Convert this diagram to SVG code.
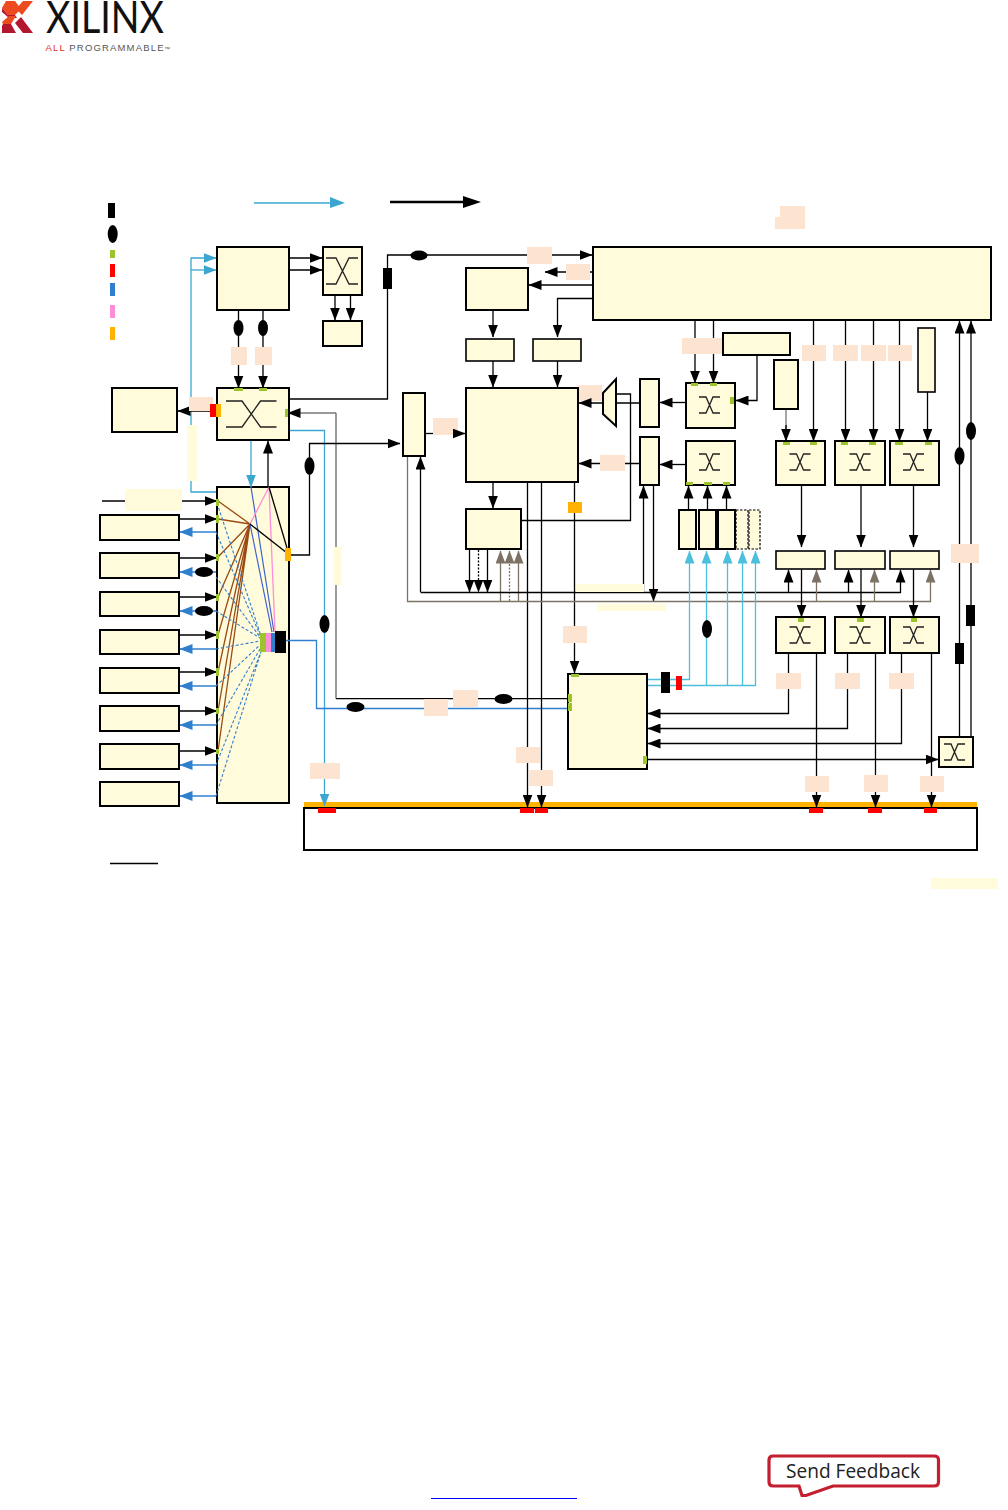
<svg xmlns="http://www.w3.org/2000/svg" width="1008" height="1510" viewBox="0 0 1008 1510">
<style>
.n{fill:#fffbdb;stroke:#000;stroke-width:2}
.t{fill:#fffbdb;stroke:#000;stroke-width:1.6}
.d{fill:#fffbdb;stroke:#000;stroke-width:1.2;stroke-dasharray:2.5 1.5}
.l{fill:none;stroke:#000;stroke-width:1.3}
.ld{fill:none;stroke:#000;stroke-width:1.3;stroke-dasharray:2 1.5}
.g{fill:none;stroke:#7d7364;stroke-width:1.3}
.gd{fill:none;stroke:#7d7364;stroke-width:1.3;stroke-dasharray:2 1.5}
.c{fill:none;stroke:#3ba7d1;stroke-width:1.3}
.lc{fill:none;stroke:#4cbfdc;stroke-width:1.3}
.b{fill:none;stroke:#2f7fce;stroke-width:1.3}
.bd{fill:none;stroke:#2f7fce;stroke-width:1.1;stroke-dasharray:3 2}
.br{fill:none;stroke:#9c4a12;stroke-width:1.3}
.p{fill:none;stroke:#ff8ed8;stroke-width:1.3}
.ub{fill:none;stroke:#3f62d0;stroke-width:1.2}
.x{fill:none;stroke:#222;stroke-width:1.3}
.pe{fill:#fde4d0}
.pa{fill:#fffbdb}
.gr{fill:#9bc42d}
.re{fill:#ff0000}
.or{fill:#ffb300}
.bl{fill:#000}
</style>
<defs>
<marker id="a" viewBox="0 0 13 10" refX="12.500" refY="5" markerWidth="13" markerHeight="10" markerUnits="userSpaceOnUse" orient="auto"><path d="M0 0L13 5L0 10Z" fill="#000"/></marker>
<marker id="ac" viewBox="0 0 13 10" refX="12.500" refY="5" markerWidth="13" markerHeight="10" markerUnits="userSpaceOnUse" orient="auto"><path d="M0 0L13 5L0 10Z" fill="#3ba7d1"/></marker>
<marker id="alc" viewBox="0 0 13 10" refX="12.500" refY="5" markerWidth="13" markerHeight="10" markerUnits="userSpaceOnUse" orient="auto"><path d="M0 0L13 5L0 10Z" fill="#4cbfdc"/></marker>
<marker id="ab" viewBox="0 0 13 10" refX="12.500" refY="5" markerWidth="13" markerHeight="10" markerUnits="userSpaceOnUse" orient="auto"><path d="M0 0L13 5L0 10Z" fill="#2f7fce"/></marker>
<marker id="ag" viewBox="0 0 13 10" refX="12.500" refY="5" markerWidth="13" markerHeight="10" markerUnits="userSpaceOnUse" orient="auto"><path d="M0 0L13 5L0 10Z" fill="#7d7364"/></marker>
<path id="xl" class="x" d="M-25.500 -13H-9.500L9 13H25M-25.500 13H-9.500L9 -13H25"/>
<path id="xm" class="x" d="M-16 -13H-6L7 13H16M-16 13H-6L7 -13H16"/>
<path id="xs" class="x" d="M-10.500 -8H-3.500L3.500 8H10.500M-10.500 8H-3.500L3.500 -8H10.500"/>
</defs>
<rect width="1008" height="1510" fill="#fff"/>

<g id="logo">
<polygon points="33,1 23,1 16,9 22,15" fill="#ee4a1f"/>
<polygon points="33,33 23,33 15,23 21,17" fill="#b5162f"/>
<polygon points="6,1 15,1 21,9 15,15 8,15 2,8" fill="#ee4a1f"/>
<polygon points="2,8 8,15 15,15 17,18 9,18 2,12" fill="#b5162f"/>
<polygon points="9,16 16,16 11,24 3,24 2,22" fill="#ee4a1f"/>
<polygon points="3,24 11,24 16,33 2,33 2,26" fill="#b5162f"/>
<text x="46" y="32.500" font-family="Lato, 'Liberation Sans', sans-serif" font-size="44" font-weight="400" textLength="118" lengthAdjust="spacingAndGlyphs" fill="#111">XILINX</text>
<text x="45.500" y="50.500" font-family="'Liberation Sans', sans-serif" font-size="9.500" textLength="118" lengthAdjust="spacing" fill="#555"><tspan fill="#e0301e">ALL</tspan> PROGRAMMABLE</text>
<text x="164" y="50.500" font-family="'Liberation Sans', sans-serif" font-size="6" fill="#555">™</text>
</g>

<g id="legend">
<rect x="108" y="203" width="7" height="15" class="bl"/>
<ellipse cx="112.700" cy="234" rx="5" ry="9" class="bl"/>
<rect x="110" y="250" width="5" height="8" class="gr"/>
<rect x="110" y="264" width="5" height="13" class="re"/>
<rect x="110" y="283" width="5" height="13" fill="#2f7fce"/>
<rect x="110" y="305" width="5" height="13" fill="#ff8ed8"/>
<rect x="110" y="327" width="5" height="13" class="or"/>
<path d="M254 203H334" fill="none" stroke="#3ba7d1" stroke-width="1.500"/>
<path d="M330 197L345 203L330 208Z" fill="#3ba7d1"/>
<path d="M390 202H465" fill="none" stroke="#000" stroke-width="2.500"/>
<path d="M463 196L481 202L463 208Z" fill="#000"/>
</g>

<g id="node-main"><rect class="n" x="217" y="487" width="72" height="316"/></g>
<g id="node-bus">
<rect class="n" x="304" y="808" width="673" height="42" style="fill:#fff"/>
<rect x="304" y="802" width="673" height="5" class="or"/>
<rect x="318" y="808" width="18" height="5" class="re"/>
<rect x="520" y="808" width="14" height="5" class="re"/>
<rect x="535" y="808" width="13" height="5" class="re"/>
<rect x="809" y="808" width="14" height="5" class="re"/>
<rect x="868" y="808" width="14" height="5" class="re"/>
<rect x="924" y="808" width="13" height="5" class="re"/>
</g>

<g id="connectors">
<path class="c" d="M216 492H191V258H216" marker-end="url(#ac)"/>
<path class="c" d="M191 270H216" marker-end="url(#ac)"/>
<path class="l" d="M289 258H322" marker-end="url(#a)"/>
<path class="l" d="M289 270H322" marker-end="url(#a)"/>
<path class="l" d="M335 295V320" marker-end="url(#a)"/>
<path class="l" d="M350.500 295V320" marker-end="url(#a)"/>
<path class="l" d="M238.500 310V388" marker-end="url(#a)"/>
<path class="l" d="M263 310V388" marker-end="url(#a)"/>
<path class="l" d="M217 411H178" marker-end="url(#a)"/>
<path class="l" d="M289 399H387.500V255H592" marker-end="url(#a)"/>
<path class="l" d="M336 413H288" marker-end="url(#a)" style="stroke:#777"/>
<path d="M336 413V698.700" fill="none" stroke="#666" stroke-width="1.300"/>
<path class="l" d="M336 698.700H568"/>
<path class="c" d="M289 430.500H324.500V806" marker-end="url(#ac)"/>
<path class="c" d="M251 440V487" marker-end="url(#ac)"/>
<path class="l" d="M268 487V441" marker-end="url(#a)"/>
<path class="l" d="M290 555H309.500V443.500H400" marker-end="url(#a)"/>
<path class="br" d="M218 501L250 524M218 519L250 524M218 557L250 524M218 597L250 524M218 635L250 524M218 672L250 524M218 711L250 524M218 751L250 524"/>
<path class="bd" d="M217 503L260 633M216 532L260 635M216 577L260 637M216 611L260 638M216 649L260 641M216 686L260 645M216 725L260 649M216 765L261 652M216 796L261 652"/>
<path class="ub" d="M251 487L274 632M250 524L272 632"/>
<path class="p" d="M269 487L250 524M269 487L275 632"/>
<path class="l" d="M269 487L287 548M250 524L287 553"/>
<path class="l" d="M102 501H217" marker-end="url(#a)"/>
<path class="l" d="M179 519H217" marker-end="url(#a)"/>
<path class="l" d="M179 558H217" marker-end="url(#a)"/>
<path class="l" d="M179 597H217" marker-end="url(#a)"/>
<path class="l" d="M179 635H217" marker-end="url(#a)"/>
<path class="l" d="M179 672H217" marker-end="url(#a)"/>
<path class="l" d="M179 711H217" marker-end="url(#a)"/>
<path class="l" d="M179 751H217" marker-end="url(#a)"/>
<path class="b" d="M216 532H180" marker-end="url(#ab)"/>
<path class="b" d="M216 572H180" marker-end="url(#ab)"/>
<path class="b" d="M216 611H180" marker-end="url(#ab)"/>
<path class="b" d="M216 649H180" marker-end="url(#ab)"/>
<path class="b" d="M216 686H180" marker-end="url(#ab)"/>
<path class="b" d="M216 725H180" marker-end="url(#ab)"/>
<path class="b" d="M216 765H180" marker-end="url(#ab)"/>
<path class="b" d="M216 796H180" marker-end="url(#ab)"/>
<path class="b" d="M286 640.500H316.500V708.500H568"/>
<path class="l" d="M593 272H545" marker-end="url(#a)"/>
<path class="l" d="M593 285H529" marker-end="url(#a)"/>
<path class="l" d="M593 298.500H557.500V337" marker-end="url(#a)"/>
<path class="l" d="M493 310V337" marker-end="url(#a)"/>
<path class="l" d="M493 361V387" marker-end="url(#a)"/>
<path class="l" d="M557.500 361V387" marker-end="url(#a)"/>
<path class="l" d="M425 433.500H453"/>
<path class="l" d="M640 403H590"/>
<path class="l" d="M640 463.500H579" marker-end="url(#a)"/>
<path class="l" d="M616 394H630.500V520.500H521"/>
<path class="l" d="M686 402.500H660" marker-end="url(#a)"/>
<path class="l" d="M686 464.500H660" marker-end="url(#a)"/>
<path class="l" d="M643.500 592V486" marker-end="url(#a)"/>
<path class="l" d="M653.500 485V601" marker-end="url(#a)"/>
<path class="l" d="M493 482V508" marker-end="url(#a)"/>
<path class="l" d="M527.500 482V807" marker-end="url(#a)"/>
<path class="l" d="M541.500 482V807" marker-end="url(#a)"/>
<path class="l" d="M574.500 482V673" marker-end="url(#a)"/>
<path class="l" d="M469.500 550V592" marker-end="url(#a)"/>
<path class="ld" d="M478.500 550V592" marker-end="url(#a)"/>
<path class="l" d="M487.500 550V592" marker-end="url(#a)"/>
<path class="g" d="M500.500 601V551" marker-end="url(#ag)"/>
<path class="gd" d="M509.500 601V551" marker-end="url(#ag)"/>
<path class="g" d="M518.500 601V551" marker-end="url(#ag)"/>
<path class="l" d="M420.500 592V457" marker-end="url(#a)"/>
<path class="l" d="M420.500 592.500H900.500V570" marker-end="url(#a)"/>
<path class="l" d="M788.500 592.500V570" marker-end="url(#a)"/>
<path class="l" d="M848.500 592.500V570" marker-end="url(#a)"/>
<path class="g" d="M407.500 456V601.500H930.500V570" marker-end="url(#ag)"/>
<path class="g" d="M816.500 601.500V570" marker-end="url(#ag)"/>
<path class="g" d="M874.500 601.500V570" marker-end="url(#ag)"/>
<path class="l" d="M695 320V383" marker-end="url(#a)"/>
<path class="l" d="M713.500 320V383" marker-end="url(#a)"/>
<path class="l" d="M757 355V400.500H736" marker-end="url(#a)"/>
<path d="M786 409V441" fill="none" stroke="#888" stroke-width="1.500"/>
<path class="l" d="M786 425V441" marker-end="url(#a)"/>
<path class="l" d="M813.500 320V441" marker-end="url(#a)"/>
<path class="l" d="M845.500 320V441" marker-end="url(#a)"/>
<path class="l" d="M873.500 320V441" marker-end="url(#a)"/>
<path class="l" d="M899.500 320V441" marker-end="url(#a)"/>
<path class="l" d="M927.500 392V441" marker-end="url(#a)"/>
<path class="l" d="M959.500 737V321" marker-end="url(#a)"/>
<path class="l" d="M971 737V321" marker-end="url(#a)"/>
<path class="l" d="M688.500 510V486" marker-end="url(#a)"/>
<path class="l" d="M707.500 510V486" marker-end="url(#a)"/>
<path class="l" d="M726.500 510V486" marker-end="url(#a)"/>
<path class="l" d="M801.500 485V547" marker-end="url(#a)"/>
<path class="l" d="M861 485V547" marker-end="url(#a)"/>
<path class="l" d="M913.500 485V547" marker-end="url(#a)"/>
<path class="l" d="M801.500 569V617" marker-end="url(#a)"/>
<path class="l" d="M861 569V617" marker-end="url(#a)"/>
<path class="l" d="M913.500 569V617" marker-end="url(#a)"/>
<path class="lc" d="M648 679.500H689.500V551" marker-end="url(#alc)"/>
<path class="lc" d="M648 685.500H755.500V551" marker-end="url(#alc)"/>
<path class="lc" d="M706.500 685.500V551" marker-end="url(#alc)"/>
<path class="lc" d="M727.500 685.500V551" marker-end="url(#alc)"/>
<path class="lc" d="M742.500 685.500V551" marker-end="url(#alc)"/>
<path class="l" d="M788.500 653V713.500H648" marker-end="url(#a)"/>
<path class="l" d="M847.500 653V728.500H648" marker-end="url(#a)"/>
<path class="l" d="M901.500 653V743.500H648" marker-end="url(#a)"/>
<path class="l" d="M647 759.500H938" marker-end="url(#a)"/>
<path class="l" d="M816.500 653V807" marker-end="url(#a)"/>
<path class="l" d="M875.500 653V807" marker-end="url(#a)"/>
<path class="l" d="M931.500 653V807" marker-end="url(#a)"/>
<path class="l" d="M110 863.500H158"/>
</g>

<g id="labels">
<rect x="231" y="347" width="16" height="18" class="pe"/>
<rect x="255" y="347" width="17" height="18" class="pe"/>
<rect x="189" y="397" width="24" height="14" class="pe"/>
<rect x="187" y="425" width="10" height="56" class="pa"/>
<rect x="125" y="489" width="57" height="22" class="pa"/>
<rect x="333.500" y="547" width="8" height="38" class="pa"/>
<rect x="310" y="763" width="30" height="16" class="pe"/>
<rect x="453" y="690" width="25" height="17" class="pe"/>
<rect x="424" y="699" width="24" height="17" class="pe"/>
<rect x="527" y="247" width="25" height="17" class="pe"/>
<rect x="566" y="264" width="24" height="16" class="pe"/>
<rect x="433" y="418" width="25" height="17" class="pe"/>
<rect x="578" y="385" width="24" height="16" class="pe"/>
<rect x="600" y="455" width="25" height="16" class="pe"/>
<rect x="563" y="626" width="24" height="17" class="pe"/>
<rect x="516" y="747" width="24" height="16" class="pe"/>
<rect x="529" y="770" width="24" height="16" class="pe"/>
<rect x="576" y="584" width="68" height="8" class="pa"/>
<rect x="597" y="604" width="69" height="7" class="pa"/>
<rect x="780" y="206" width="25" height="23" class="pe"/>
<rect x="775" y="217" width="30" height="12" class="pe"/>
<rect x="682" y="338" width="41" height="16" class="pe"/>
<rect x="802" y="345" width="24" height="16" class="pe"/>
<rect x="833" y="345" width="25" height="16" class="pe"/>
<rect x="861" y="345" width="25" height="16" class="pe"/>
<rect x="888" y="345" width="24" height="16" class="pe"/>
<rect x="951" y="544" width="28" height="19" class="pe"/>
<rect x="776" y="673" width="25" height="16" class="pe"/>
<rect x="835" y="673" width="25" height="16" class="pe"/>
<rect x="889" y="673" width="25" height="16" class="pe"/>
<rect x="805" y="776" width="24" height="16" class="pe"/>
<rect x="864" y="775" width="24" height="17" class="pe"/>
<rect x="920" y="776" width="24" height="16" class="pe"/>
<rect x="931" y="878" width="67" height="11" class="pa"/>
</g>

<g id="arrows-over-labels">
<path class="l" d="M453 433.500H465" marker-end="url(#a)"/>
<path class="l" d="M592 403H579" marker-end="url(#a)"/>
</g>

<g id="inline-marks">
<ellipse cx="238.500" cy="328" rx="5" ry="8" class="bl"/>
<ellipse cx="263" cy="328" rx="5" ry="8" class="bl"/>
<ellipse cx="419" cy="255.500" rx="8.500" ry="5" class="bl"/>
<rect x="383" y="268" width="9" height="21" class="bl"/>
<ellipse cx="309.500" cy="466" rx="5" ry="9" class="bl"/>
<ellipse cx="324.500" cy="624" rx="5" ry="9" class="bl"/>
<ellipse cx="355.500" cy="707" rx="9" ry="5" class="bl"/>
<ellipse cx="503.500" cy="699" rx="9" ry="5" class="bl"/>
<ellipse cx="204" cy="572" rx="9" ry="5" class="bl"/>
<ellipse cx="204" cy="611" rx="9" ry="5" class="bl"/>
<ellipse cx="707" cy="629" rx="5" ry="9" class="bl"/>
<ellipse cx="959.500" cy="456" rx="5" ry="9" class="bl"/>
<ellipse cx="971" cy="431" rx="5" ry="9" class="bl"/>
<rect x="661" y="672" width="9" height="21" class="bl"/>
<rect x="676" y="676" width="6" height="14" class="re"/>
<rect x="955" y="643" width="9" height="21" class="bl"/>
<rect x="966" y="605" width="9" height="21" class="bl"/>
<rect x="568" y="502" width="14" height="11" class="or"/>
</g>

<g id="node-mem"><rect class="n" x="217" y="247" width="72" height="63"/></g>
<g id="node-sw1"><rect class="n" x="323" y="247" width="39" height="48"/><use href="#xm" x="342" y="271"/></g>
<g id="node-sw1out"><rect class="n" x="323" y="321" width="39" height="25"/></g>
<g id="node-sw2"><rect class="n" x="217" y="388" width="72" height="52"/><use href="#xl" x="251.500" y="414"/>
<rect x="234" y="388" width="9" height="3" class="gr"/><rect x="259" y="388" width="8" height="3" class="gr"/><rect x="285" y="409" width="3" height="8" class="gr"/><rect x="210" y="404" width="6" height="13" class="re"/><rect x="216" y="404" width="5" height="13" class="or"/></g>
<g id="node-leftbox"><rect class="n" x="112" y="388" width="65" height="44"/></g>
<g id="node-io1"><rect class="n" x="100" y="515" width="79" height="25"/></g>
<g id="node-io2"><rect class="n" x="100" y="553" width="79" height="25"/></g>
<g id="node-io3"><rect class="n" x="100" y="592" width="79" height="24"/></g>
<g id="node-io4"><rect class="n" x="100" y="630" width="79" height="24"/></g>
<g id="node-io5"><rect class="n" x="100" y="668" width="79" height="25"/></g>
<g id="node-io6"><rect class="n" x="100" y="706" width="79" height="25"/></g>
<g id="node-io7"><rect class="n" x="100" y="744" width="79" height="25"/></g>
<g id="node-io8"><rect class="n" x="100" y="782" width="79" height="24"/></g>
<g id="main-marks">
<rect x="216" y="499" width="3" height="7" class="gr"/><rect x="216" y="515" width="3" height="8" class="gr"/><rect x="216" y="554" width="3" height="7" class="gr"/><rect x="216" y="594" width="3" height="7" class="gr"/><rect x="216" y="631" width="3" height="8" class="gr"/><rect x="216" y="668" width="3" height="8" class="gr"/><rect x="216" y="708" width="3" height="6" class="gr"/><rect x="216" y="749" width="3" height="5" class="gr"/>
<rect x="285" y="548" width="6" height="13" class="or"/>
<rect x="260" y="633" width="6" height="19" class="gr"/><rect x="266" y="633" width="5" height="19" fill="#ff8ed8"/><rect x="271" y="633" width="4" height="19" fill="#2f7fce"/><rect x="275" y="631" width="11" height="22" class="bl"/>
</g>
<g id="node-ddr"><rect class="n" x="593" y="247" width="398" height="73"/></g>
<g id="node-c"><rect class="n" x="466" y="268" width="62" height="42"/></g>
<g id="node-d"><rect class="t" x="466" y="339" width="48" height="22"/></g>
<g id="node-e"><rect class="t" x="533" y="339" width="48" height="22"/></g>
<g id="node-f"><rect class="n" x="466" y="388" width="112" height="94"/></g>
<g id="node-g"><rect class="n" x="403" y="393" width="22" height="63"/></g>
<g id="node-mux"><polygon class="n" points="603,393 616,379 616,426 603,414"/></g>
<g id="node-h"><rect class="n" x="640" y="379" width="19" height="48"/></g>
<g id="node-i"><rect class="n" x="640" y="437" width="19" height="48"/></g>
<g id="node-j"><rect class="n" x="466" y="509" width="55" height="40"/></g>
<g id="node-k"><rect class="n" x="723" y="333" width="67" height="22"/></g>
<g id="node-l"><rect class="n" x="774" y="360" width="24" height="49"/></g>
<g id="node-m"><rect class="t" x="918" y="328" width="17" height="64"/></g>
<g id="node-n"><rect class="n" x="686" y="383" width="49" height="45"/><use href="#xs" x="709.500" y="405"/><rect x="691" y="383" width="7" height="3" class="gr"/><rect x="710" y="383" width="7" height="3" class="gr"/><rect x="730" y="397" width="4" height="7" class="gr"/></g>
<g id="node-o"><rect class="n" x="686" y="441" width="49" height="44"/><use href="#xs" x="709.500" y="462"/><rect x="686" y="482" width="7" height="3" class="gr"/><rect x="704" y="482" width="8" height="3" class="gr"/><rect x="723" y="482" width="7" height="3" class="gr"/></g>
<g id="node-p"><rect class="n" x="776" y="441" width="49" height="44"/><use href="#xs" x="800" y="462"/><rect x="783" y="442" width="7" height="3" class="gr"/><rect x="810" y="442" width="7" height="3" class="gr"/></g>
<g id="node-q"><rect class="n" x="835" y="441" width="50" height="44"/><use href="#xs" x="860" y="462"/><rect x="841" y="442" width="7" height="3" class="gr"/><rect x="869" y="442" width="7" height="3" class="gr"/></g>
<g id="node-r"><rect class="n" x="890" y="441" width="49" height="44"/><use href="#xs" x="913.500" y="462"/><rect x="895" y="442" width="8" height="3" class="gr"/><rect x="925" y="442" width="7" height="3" class="gr"/></g>
<g id="node-b1"><rect class="n" x="679" y="510" width="17" height="39"/></g>
<g id="node-b2"><rect class="n" x="699" y="510" width="17" height="39"/></g>
<g id="node-b3"><rect class="n" x="718" y="510" width="17" height="39"/></g>
<g id="node-b4"><rect class="d" x="736" y="510" width="12" height="39"/></g>
<g id="node-b5"><rect class="d" x="749" y="510" width="11" height="39"/></g>
<g id="node-s"><rect class="t" x="776" y="551" width="49" height="18"/></g>
<g id="node-t"><rect class="t" x="835" y="551" width="50" height="18"/></g>
<g id="node-u"><rect class="t" x="890" y="551" width="49" height="18"/></g>
<g id="node-v"><rect class="n" x="776" y="617" width="49" height="36"/><use href="#xs" x="800" y="635"/><rect x="798" y="618" width="6" height="4" class="gr"/></g>
<g id="node-w"><rect class="n" x="835" y="617" width="50" height="36"/><use href="#xs" x="860" y="635"/><rect x="857" y="618" width="7" height="4" class="gr"/></g>
<g id="node-x"><rect class="n" x="890" y="617" width="49" height="36"/><use href="#xs" x="913.500" y="635"/><rect x="911" y="618" width="6" height="4" class="gr"/></g>
<g id="node-y"><rect class="n" x="939" y="737" width="34" height="30"/><use href="#xs" x="954.500" y="752"/></g>
<g id="node-z"><rect class="n" x="568" y="674" width="79" height="95"/>
<rect x="571" y="674" width="8" height="3" class="gr"/><rect x="568" y="694" width="4" height="8" class="gr"/><rect x="568" y="703" width="4" height="8" class="gr"/><rect x="643" y="756" width="4" height="8" class="gr"/></g>

<g id="footer">
<path d="M431 1498.500H577" stroke="#0000ff" stroke-width="1" fill="none"/>
<path d="M773 1456H934Q938.500 1456 938.500 1460V1482Q938.500 1486 934 1486H833L806 1495.500L802 1495.500L799 1486H773Q769 1486 769 1482V1460Q769 1456 773 1456Z" fill="#fff" stroke="#c41f30" stroke-width="3.200"/>
<text x="786" y="1478" font-family="'Open Sans', 'Noto Sans', sans-serif" font-size="20" textLength="134" lengthAdjust="spacingAndGlyphs" fill="#222">Send Feedback</text>
</g>
</svg>
